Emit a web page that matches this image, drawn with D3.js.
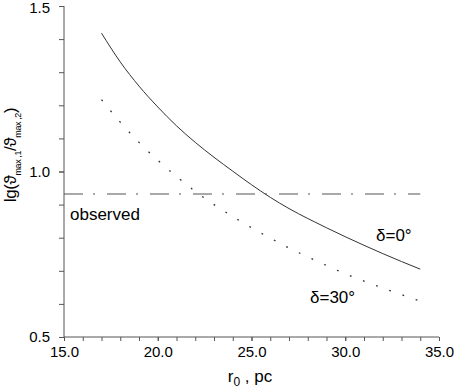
<!DOCTYPE html>
<html><head><meta charset="utf-8">
<script src="https://cdn.jsdelivr.net/npm/d3@7"></script>
<style>
body{margin:0;background:#fff;}
svg{display:block;font-family:"Liberation Sans",Arial,sans-serif;}
</style></head>
<body>
<svg id="c" width="457" height="392"></svg>
<script>
const r0 = [17,18,19,20,21,22,23,24,25,26,27,28,29,30,31,32,33,34];
const delta0 = [1.418,1.331,1.258,1.195,1.138,1.088,1.043,1.001,0.960,0.922,0.888,0.858,0.830,0.803,0.777,0.752,0.728,0.705];
const delta30 = [1.217,1.149,1.088,1.034,0.985,0.940,0.900,0.864,0.830,0.799,0.769,0.742,0.716,0.691,0.669,0.648,0.628,0.608];
const observedValue = 0.932;
const observedRange = [15,34];
const xMajor = [15,20,25,30,35];
const yMajor = [0.5,1.0,1.5];

const svg = d3.select("#c");
const x = d3.scaleLinear().domain([15,35]).range([64,439]);
const y = d3.scaleLinear().domain([0.5,1.5]).range([337,6]);
const axisColor = "#555";

const xMinor = d3.range(15,35.01,1);
const yMinor = d3.range(0.5,1.501,0.1);

const gx = svg.append("g").attr("transform","translate(0,337)");
gx.call(d3.axisBottom(x).tickValues(xMinor).tickSize(4).tickFormat(""));
gx.select(".domain").remove();
gx.selectAll("line").attr("stroke",axisColor);
const gx2 = svg.append("g").attr("transform","translate(0,337)");
gx2.call(d3.axisBottom(x).tickValues(xMajor).tickSize(4).tickPadding(5).tickFormat(d3.format(".1f")));
gx2.select(".domain").attr("stroke",axisColor).attr("d","M64,0H439");
gx2.selectAll("line").attr("stroke",axisColor);
gx2.selectAll("text").attr("font-size",15).attr("font-family","Liberation Sans, Arial").attr("fill","#000");

const gy = svg.append("g").attr("transform","translate(64,0)");
gy.call(d3.axisLeft(y).tickValues(yMinor).tickSize(5).tickFormat(""));
gy.select(".domain").remove();
gy.selectAll("line").attr("stroke",axisColor);
const gy2 = svg.append("g").attr("transform","translate(64,0)");
gy2.call(d3.axisLeft(y).tickValues(yMajor).tickSize(5).tickPadding(9).tickFormat(d3.format(".1f")));
gy2.select(".domain").attr("stroke",axisColor).attr("d","M0,6V337");
gy2.selectAll("line").attr("stroke",axisColor);
gy2.selectAll("text").attr("font-size",15).attr("font-family","Liberation Sans, Arial").attr("fill","#000")
  .attr("dy", d => d === 1.5 ? "0.42em" : "0.32em");

const line = d3.line().x((d,i)=>x(r0[i])).y(d=>y(d)).curve(d3.curveMonotoneX);

svg.append("path").datum(delta0).attr("d",line)
  .attr("fill","none").attr("stroke","#333").attr("stroke-width",1);
svg.append("path").datum(delta30).attr("d",line)
  .attr("fill","none").attr("stroke","#333").attr("stroke-width",1.3)
  .attr("stroke-dasharray","1.8,12.2");

svg.append("line")
  .attr("x1",x(observedRange[0])).attr("x2",x(observedRange[1]))
  .attr("y1",y(observedValue)).attr("y2",y(observedValue))
  .attr("stroke","#555").attr("stroke-width",1.2)
  .attr("stroke-dasharray","19,10,2,12");

svg.append("text").attr("x",70).attr("y",220).attr("font-size",17).text("observed");
svg.append("text").attr("x",376).attr("y",241).attr("font-size",17).text("δ=0°");
svg.append("text").attr("x",310).attr("y",303).attr("font-size",17).text("δ=30°");

const xt = svg.append("text").attr("x",250).attr("y",382).attr("text-anchor","middle").attr("font-size",17);
xt.append("tspan").text("r");
xt.append("tspan").attr("font-size",12).attr("dy",4).text("0");
xt.append("tspan").attr("dy",-4).text(" , pc");

const yt = svg.append("text").attr("transform","translate(16,155) rotate(-90)")
  .attr("text-anchor","middle").attr("font-size",17).attr("letter-spacing",-0.4);
yt.append("tspan").text("lg(ϑ");
yt.append("tspan").attr("font-size",9).attr("dy",5).text("max ,1");
yt.append("tspan").attr("dy",-5).text("/ϑ");
yt.append("tspan").attr("font-size",9).attr("dy",5).text("max ,2");
yt.append("tspan").attr("dy",-5).text(")");
</script>
</body></html>
